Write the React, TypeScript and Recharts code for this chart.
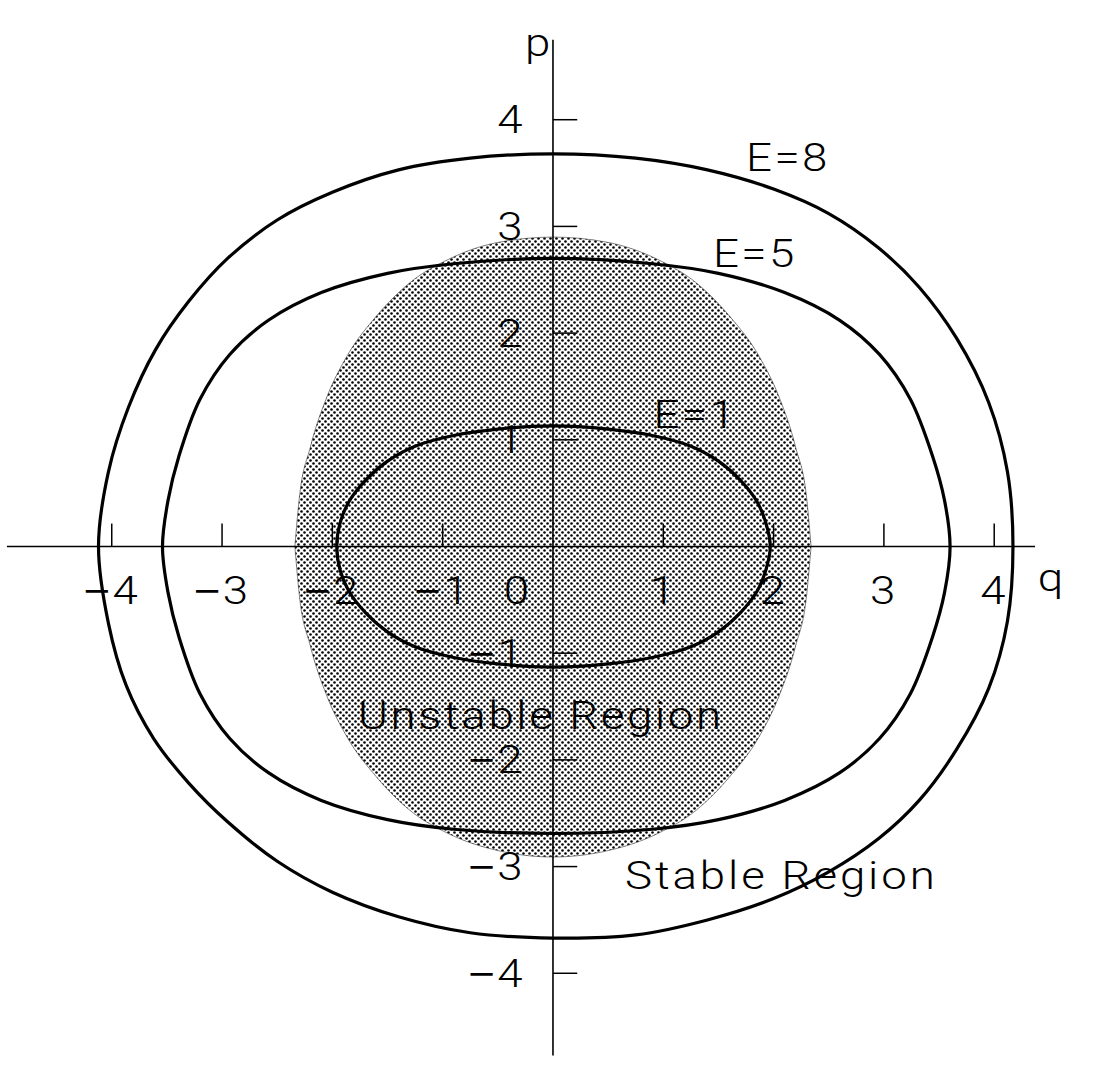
import React from 'react';
import { ComposedChart, XAxis, YAxis, Line, Area, ReferenceLine, ReferenceDot } from 'recharts';

const WIDTH = 1099;
const HEIGHT = 1082;

// Energy contours in the (q, p) phase plane, traced counter-clockwise from the right-hand crossing.
const e1Q = [1.97, 1.93, 1.85, 1.70, 1.50, 1.25, 0.90, 0.50, 0, -0.50, -0.90, -1.25, -1.50, -1.70, -1.85, -1.93, -1.96, -1.93, -1.85, -1.70, -1.50, -1.25, -0.90, -0.50, 0, 0.50, 0.90, 1.25, 1.50, 1.70, 1.85, 1.93];
const e1P = [0, 0.22, 0.42, 0.62, 0.80, 0.94, 1.04, 1.10, 1.13, 1.10, 1.04, 0.94, 0.80, 0.62, 0.42, 0.22, 0, -0.22, -0.42, -0.62, -0.80, -0.94, -1.04, -1.10, -1.13, -1.10, -1.04, -0.94, -0.80, -0.62, -0.42, -0.22];

const e5Q = [3.60, 3.55, 3.44, 3.24, 2.96, 2.60, 2.10, 1.50, 0.90, 0, -0.90, -1.50, -2.10, -2.58, -2.93, -3.20, -3.39, -3.49, -3.54, -3.49, -3.39, -3.20, -2.93, -2.58, -2.10, -1.50, -0.90, 0, 0.90, 1.50, 2.10, 2.60, 2.96, 3.24, 3.44, 3.55];
const e5P = [0, 0.43, 0.85, 1.38, 1.80, 2.12, 2.38, 2.56, 2.65, 2.70, 2.65, 2.56, 2.38, 2.12, 1.80, 1.38, 0.85, 0.43, 0, -0.43, -0.85, -1.38, -1.80, -2.12, -2.38, -2.56, -2.65, -2.69, -2.65, -2.56, -2.38, -2.12, -1.80, -1.38, -0.85, -0.43];

const e8Q = [4.17, 4.12, 3.95, 3.66, 3.32, 2.95, 2.50, 2.00, 1.40, 0.75, 0, -0.75, -1.40, -2.00, -2.50, -2.95, -3.30, -3.60, -3.85, -4.03, -4.12, -4.03, -3.87, -3.62, -3.30, -2.95, -2.50, -2.00, -1.40, -0.75, 0, 0.75, 1.40, 2.00, 2.50, 2.95, 3.32, 3.66, 3.95, 4.12];
const e8P = [0, 0.70, 1.35, 1.95, 2.43, 2.80, 3.12, 3.35, 3.53, 3.64, 3.68, 3.64, 3.53, 3.32, 3.06, 2.70, 2.30, 1.85, 1.30, 0.70, 0, -0.72, -1.30, -1.80, -2.22, -2.58, -2.95, -3.24, -3.47, -3.62, -3.67, -3.64, -3.50, -3.30, -3.05, -2.74, -2.38, -1.90, -1.33, -0.70];

// Unstable region: lower and upper p boundary at each q.
const regionQ = [-2.34, -2.30, -2.20, -2.05, -1.87, -1.60, -1.30, -0.95, -0.50, 0, 0.50, 0.95, 1.30, 1.60, 1.87, 2.05, 2.20, 2.30, 2.34];
const regionTop = [0, 0.45, 0.93, 1.40, 1.78, 2.16, 2.47, 2.69, 2.85, 2.90, 2.85, 2.69, 2.47, 2.16, 1.78, 1.40, 0.93, 0.45, 0];
const regionBottom = [0, -0.45, -0.93, -1.40, -1.78, -2.16, -2.47, -2.69, -2.85, -2.91, -2.85, -2.69, -2.47, -2.16, -1.78, -1.40, -0.93, -0.45, 0];

// Axis ticks
const qTicks = [-4, -3, -2, -1, 1, 2, 3, 4];
const qTickLabels = [-4, -3, -2, -1, 0, 1, 2, 3, 4];
const pTicks = [4, 3, 2, 1, -1, -2, -3, -4];

// Plot frame (data units)
const Q_DOMAIN: [number, number] = [-5.013, 4.95];
const P_DOMAIN: [number, number] = [-5.019, 5.122];
const Q_AXIS_SPAN: [number, number] = [-4.95, 4.37];
const P_AXIS_SPAN: [number, number] = [-4.77, 4.75];
const Q_TICK_LEN = 0.215;
const P_TICK_LEN = 0.22;

// Label anchors (data units)
const Q_LABEL_P = -0.41;
const ZERO_LABEL_Q = -0.32;
const P_LABEL_Q = -0.254;
const captions = [
  { text: 'E=8', q: 2.13, p: 3.65, spacing: 2 },
  { text: 'E=5', q: 1.83, p: 2.75, spacing: 2 },
  { text: 'E=1', q: 1.29, p: 1.24, spacing: 2 },
  { text: 'Unstable Region', q: -0.11, p: -1.58, spacing: 2.2 },
  { text: 'Stable Region', q: 2.07, p: -3.08, spacing: 2.4 },
  { text: 'p', q: -0.14, p: 4.72, spacing: 0 },
  { text: 'q', q: 4.51, p: -0.29, spacing: 0 },
];

const FONT = 'Roboto, "Liberation Sans", sans-serif';
const MINUS_FONT = '"Liberation Sans", Arial, sans-serif';
const FONT_SIZE = 38;
const FONT_WEIGHT = 300;
const STRETCH = 1.2;
const MINUS = '\u2212';

const toPoints = (qs: number[], ps: number[]) => qs.map((q, i) => ({ q, p: ps[i] }));
const e1 = toPoints(e1Q, e1P);
const e5 = toPoints(e5Q, e5P);
const e8 = toPoints(e8Q, e8P);
const region = regionQ.map((q, i) => ({ q, range: [regionBottom[i], regionTop[i]] }));

const fmt = (v: number) => (v < 0 ? `${MINUS}${Math.abs(v)}` : `${v}`);

// Closed centripetal Catmull-Rom spline through the contour points.
const closedSpline = (context: any) => {
  let pts: [number, number][] = [];
  const dist = (a: [number, number], b: [number, number]) => Math.hypot(b[0] - a[0], b[1] - a[1]);
  return {
    areaStart() {},
    areaEnd() {},
    lineStart() {
      pts = [];
    },
    point(x: number, y: number) {
      pts.push([+x, +y]);
    },
    lineEnd() {
      const n = pts.length;
      if (n < 3) return;
      context.moveTo(pts[0][0], pts[0][1]);
      for (let i = 0; i < n; i += 1) {
        const p0 = pts[(i - 1 + n) % n];
        const p1 = pts[i];
        const p2 = pts[(i + 1) % n];
        const p3 = pts[(i + 2) % n];
        const l01 = Math.sqrt(dist(p0, p1));
        const l12 = Math.sqrt(dist(p1, p2));
        const l23 = Math.sqrt(dist(p2, p3));
        const l01s = l01 * l01;
        const l12s = l12 * l12;
        const l23s = l23 * l23;
        let c1x = p1[0];
        let c1y = p1[1];
        let c2x = p2[0];
        let c2y = p2[1];
        if (l01 > 1e-9) {
          const a = 2 * l01s + 3 * l01 * l12 + l12s;
          const m = 3 * l01 * (l01 + l12);
          c1x = (p1[0] * a - p0[0] * l12s + p2[0] * l01s) / m;
          c1y = (p1[1] * a - p0[1] * l12s + p2[1] * l01s) / m;
        }
        if (l23 > 1e-9) {
          const b = 2 * l23s + 3 * l23 * l12 + l12s;
          const m = 3 * l23 * (l23 + l12);
          c2x = (p2[0] * b + p1[0] * l23s - p3[0] * l12s) / m;
          c2y = (p2[1] * b + p1[1] * l23s - p3[1] * l12s) / m;
        }
        context.bezierCurveTo(c1x, c1y, c2x, c2y, p2[0], p2[1]);
      }
      context.closePath();
    },
  };
};

type Box = { x: number; y: number; width?: number; height?: number };

function Caption(props: { viewBox?: Box; text: string; anchor?: 'start' | 'middle' | 'end'; spacing?: number }) {
  const { viewBox, text, anchor = 'middle', spacing = 1.5 } = props;
  if (!viewBox) return null;
  const cx = viewBox.x + (viewBox.width ?? 0) / 2;
  const cy = viewBox.y + (viewBox.height ?? 0) / 2;
  const negative = text.startsWith(MINUS);
  return (
    <text
      transform={`translate(${cx} ${cy}) scale(${STRETCH} 1)`}
      x={0}
      y={0}
      dy={FONT_SIZE * 0.355}
      textAnchor={anchor}
      fontFamily={FONT}
      fontWeight={FONT_WEIGHT}
      fontSize={FONT_SIZE}
      letterSpacing={spacing}
      fill="#000"
    >
      {negative ? (
        <>
          <tspan fontFamily={MINUS_FONT} fontWeight={400}>
            {MINUS}
          </tspan>
          <tspan>{text.slice(1)}</tspan>
        </>
      ) : (
        text
      )}
    </text>
  );
}

export default function App() {
  return (
    <div style={{ position: 'absolute', left: 0, top: 0, background: '#fff' }}>
      <ComposedChart width={WIDTH} height={HEIGHT} margin={{ top: 0, right: 0, bottom: 0, left: 0 }}>
        <defs>
          <pattern id="stipple" width={6} height={6} patternUnits="userSpaceOnUse">
            <circle cx={1.5} cy={1.5} r={1.3} fill="#000" />
            <circle cx={4.5} cy={4.5} r={1.3} fill="#000" />
          </pattern>
        </defs>
        <XAxis dataKey="q" type="number" domain={Q_DOMAIN} allowDataOverflow hide />
        <YAxis type="number" domain={P_DOMAIN} allowDataOverflow hide />

        <Area
          data={region}
          dataKey="range"
          type="monotone"
          fill="url(#stipple)"
          fillOpacity={1}
          stroke="#333"
          strokeWidth={0.6}
          dot={false}
          activeDot={false}
          isAnimationActive={false}
        />

        {/* coordinate axes through the origin */}
        <ReferenceLine
          segment={[{ x: Q_AXIS_SPAN[0], y: 0 }, { x: Q_AXIS_SPAN[1], y: 0 }]}
          stroke="#000"
          strokeWidth={1.6}
        />
        <ReferenceLine
          segment={[{ x: 0, y: P_AXIS_SPAN[0] }, { x: 0, y: P_AXIS_SPAN[1] }]}
          stroke="#000"
          strokeWidth={1.6}
        />
        {qTicks.map((v) => (
          <ReferenceLine
            key={`qt${v}`}
            segment={[{ x: v, y: 0 }, { x: v, y: Q_TICK_LEN }]}
            stroke="#000"
            strokeWidth={1.5}
          />
        ))}
        {pTicks.map((v) => (
          <ReferenceLine
            key={`pt${v}`}
            segment={[{ x: 0, y: v }, { x: P_TICK_LEN, y: v }]}
            stroke="#000"
            strokeWidth={1.5}
          />
        ))}

        {[e8, e5, e1].map((pts, i) => (
          <Line
            key={`e${i}`}
            data={pts}
            dataKey="p"
            type={closedSpline as any}
            stroke="#000"
            strokeWidth={3.2}
            dot={false}
            activeDot={false}
            isAnimationActive={false}
          />
        ))}

        {qTickLabels.map((v) => (
          <ReferenceDot
            key={`ql${v}`}
            x={v === 0 ? ZERO_LABEL_Q : v}
            y={Q_LABEL_P}
            r={0}
            fill="none"
            stroke="none"
            label={<Caption text={fmt(v)} spacing={2} />}
          />
        ))}
        {pTicks.map((v) => (
          <ReferenceDot
            key={`pl${v}`}
            x={P_LABEL_Q}
            y={v}
            r={0}
            fill="none"
            stroke="none"
            label={<Caption text={fmt(v)} anchor="end" spacing={2} />}
          />
        ))}
        {captions.map((c) => (
          <ReferenceDot
            key={c.text}
            x={c.q}
            y={c.p}
            r={0}
            fill="none"
            stroke="none"
            label={<Caption text={c.text} spacing={c.spacing} />}
          />
        ))}
      </ComposedChart>
    </div>
  );
}
